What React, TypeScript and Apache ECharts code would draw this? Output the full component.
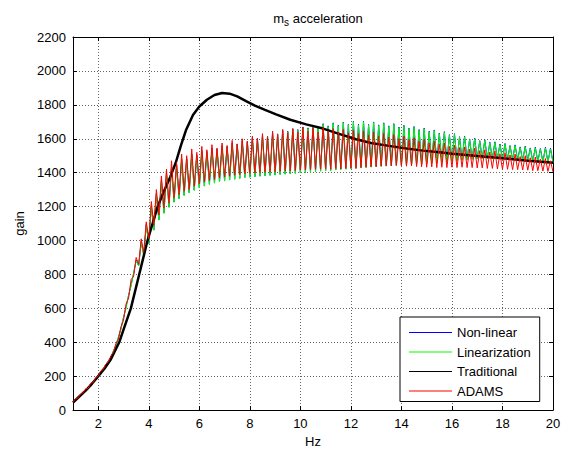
import React, { useEffect, useRef } from "react";
import * as echarts from "echarts";

// Sampling grid for the three oscillating responses (Hz)
const freqStart = 1.0;
const freqStep = 0.1;

// Non-linear (blue), rows = 1.0-1.9, 2.0-2.9, ... , 19.0-19.9, 20.0
const nonLinear = [
  50, 63, 76, 92, 104, 122, 134, 154, 166, 188,
  206, 228, 246, 268, 290, 314, 348, 384, 430, 484,
  545, 610, 675, 740, 805, 884, 851, 994, 912, 1094,
  982, 1204, 1062, 1274, 1122, 1354, 1162, 1394, 1197, 1434,
  1227, 1444, 1247, 1479, 1267, 1484, 1282, 1509, 1297, 1504,
  1312, 1529, 1322, 1524, 1332, 1544, 1340, 1539, 1347, 1559,
  1352, 1554, 1358, 1574, 1362, 1569, 1367, 1589, 1372, 1584,
  1374, 1604, 1377, 1602, 1380, 1619, 1382, 1616, 1385, 1634,
  1387, 1629, 1390, 1649, 1392, 1644, 1394, 1659, 1397, 1654,
  1400, 1669, 1402, 1664, 1404, 1679, 1407, 1672, 1410, 1689,
  1412, 1676, 1414, 1694, 1417, 1679, 1420, 1699, 1422, 1684,
  1424, 1702, 1427, 1686, 1430, 1704, 1432, 1684, 1434, 1699,
  1437, 1682, 1439, 1694, 1440, 1676, 1442, 1689, 1444, 1669,
  1445, 1679, 1447, 1662, 1448, 1672, 1450, 1654, 1452, 1662,
  1454, 1644, 1457, 1652, 1460, 1634, 1463, 1642, 1466, 1624,
  1469, 1630, 1472, 1612, 1475, 1616, 1478, 1599, 1480, 1604,
  1482, 1589, 1483, 1594, 1483, 1579, 1482, 1582, 1481, 1569,
  1480, 1572, 1478, 1560, 1476, 1564, 1474, 1552, 1472, 1556,
  1470, 1546, 1468, 1550, 1466, 1542, 1464, 1549, 1463, 1544,
  1462,
];

// Linearization (green)
const linearization = [
  52, 60, 78, 88, 108, 118, 138, 150, 172, 184,
  210, 222, 250, 262, 292, 308, 350, 378, 432, 476,
  548, 600, 680, 730, 810, 880, 850, 990, 910, 1090,
  980, 1200, 1060, 1270, 1120, 1350, 1160, 1390, 1195, 1430,
  1225, 1440, 1245, 1475, 1265, 1480, 1280, 1505, 1295, 1500,
  1310, 1525, 1320, 1520, 1330, 1540, 1338, 1535, 1345, 1555,
  1350, 1550, 1356, 1570, 1360, 1565, 1365, 1585, 1370, 1580,
  1372, 1600, 1375, 1598, 1378, 1615, 1380, 1612, 1383, 1630,
  1385, 1625, 1388, 1645, 1390, 1640, 1392, 1655, 1395, 1650,
  1398, 1665, 1400, 1660, 1402, 1675, 1405, 1668, 1408, 1685,
  1410, 1672, 1412, 1690, 1415, 1675, 1418, 1695, 1420, 1680,
  1422, 1698, 1425, 1682, 1428, 1700, 1430, 1680, 1432, 1695,
  1435, 1678, 1437, 1690, 1438, 1672, 1440, 1685, 1442, 1665,
  1443, 1675, 1445, 1658, 1446, 1668, 1448, 1650, 1450, 1658,
  1452, 1640, 1455, 1648, 1458, 1630, 1461, 1638, 1464, 1620,
  1467, 1626, 1470, 1608, 1473, 1612, 1476, 1595, 1478, 1600,
  1480, 1585, 1481, 1590, 1481, 1575, 1480, 1578, 1479, 1565,
  1478, 1568, 1476, 1556, 1474, 1560, 1472, 1548, 1470, 1552,
  1468, 1542, 1466, 1546, 1464, 1538, 1462, 1545, 1461, 1540,
  1460,
];

// ADAMS (red)
const adams = [
  48, 66, 72, 95, 102, 126, 130, 158, 164, 192,
  200, 232, 240, 272, 284, 320, 340, 392, 418, 492,
  530, 625, 660, 770, 790, 900, 860, 1010, 930, 1110,
  1010, 1230, 1090, 1300, 1150, 1380, 1190, 1420, 1220, 1470,
  1250, 1460, 1270, 1510, 1290, 1500, 1300, 1540, 1320, 1520,
  1335, 1555, 1345, 1535, 1355, 1565, 1360, 1545, 1370, 1575,
  1375, 1560, 1380, 1590, 1385, 1570, 1388, 1600, 1392, 1585,
  1395, 1615, 1398, 1600, 1400, 1630, 1402, 1610, 1405, 1645,
  1405, 1625, 1408, 1655, 1410, 1635, 1410, 1660, 1412, 1640,
  1415, 1670, 1415, 1645, 1418, 1665, 1420, 1640, 1420, 1668,
  1422, 1645, 1420, 1660, 1425, 1640, 1422, 1655, 1425, 1635,
  1428, 1650, 1425, 1630, 1430, 1645, 1432, 1620, 1435, 1640,
  1435, 1615, 1438, 1632, 1440, 1610, 1440, 1625, 1442, 1600,
  1440, 1615, 1438, 1595, 1440, 1605, 1436, 1585, 1435, 1595,
  1432, 1575, 1434, 1585, 1430, 1568, 1432, 1575, 1430, 1555,
  1432, 1562, 1430, 1548, 1432, 1552, 1430, 1538, 1430, 1545,
  1428, 1530, 1428, 1535, 1425, 1522, 1425, 1528, 1422, 1512,
  1420, 1518, 1420, 1505, 1418, 1510, 1418, 1495, 1416, 1500,
  1415, 1488, 1412, 1492, 1412, 1480, 1410, 1484, 1408, 1470,
  1405,
];

// Traditional (black), smooth curve with its own frequency points
const tradFreq = [
  1.0, 1.25, 1.5, 1.75, 2.0, 2.25, 2.5, 2.83, 3.0, 3.29, 3.62, 3.95, 4.15, 4.35,
  4.6, 4.85, 5.07, 5.27, 5.47, 5.75, 6.0, 6.3, 6.6, 6.9, 7.2, 7.5, 7.85, 8.2,
  8.6, 9.04, 9.6, 10.23, 10.9, 11.5, 12.2, 12.8, 13.5, 14.2, 14.85, 15.5, 16,
  17, 18, 19, 20,
];
const tradGain = [
  45, 80, 115, 155, 200, 245, 300, 400, 475, 600, 800, 1000, 1100, 1200,
  1290, 1375, 1460, 1560, 1650, 1740, 1790, 1830, 1858, 1870, 1866, 1850, 1822, 1795,
  1770, 1744, 1712, 1685, 1660, 1630, 1597, 1575, 1558, 1542, 1530, 1520, 1512,
  1498, 1485, 1470, 1458,
];

const seriesNames = ["Non-linear", "Linearization", "Traditional", "ADAMS"];
const seriesColors = ["#0000ff", "#00ff00", "#000000", "#ff0000"];
const xTicks = [2, 4, 6, 8, 10, 12, 14, 16, 18, 20];
const xMin = 1;
const xMax = 20;
const yMin = 0;
const yMax = 2200;
const yStep = 200;

const FONT = "'Liberation Sans', Arial, Helvetica, sans-serif";

function toPairs(vals: number[]) {
  return vals.map((v, i) => [Number((freqStart + i * freqStep).toFixed(2)), v]);
}

export default function App() {
  const ref = useRef<HTMLDivElement>(null);

  useEffect(() => {
    if (!ref.current) return;
    const chart = echarts.init(ref.current, undefined, { renderer: "svg" });
    const axisLineStyle = { color: "#000", width: 1 };
    const gridLine = { color: "#666", type: [1, 2], width: 1 };
    const option: any = {
      animation: false,
      backgroundColor: "#fff",
      title: {
        text: "{m|m}{s|s}{a| acceleration}",
        left: 313,
        top: 4,
        textAlign: "center",
        textStyle: {
          fontWeight: "normal",
          rich: {
            m: { fontSize: 13, fontFamily: FONT, color: "#000", fontWeight: "normal" },
            s: { fontSize: 10, fontFamily: FONT, color: "#000", fontWeight: "normal", padding: [8, 0, 0, 0] },
            a: { fontSize: 13, fontFamily: FONT, color: "#000", fontWeight: "normal" },
          },
        },
      },
      grid: { left: 73, right: 14, top: 37, bottom: 40 },
      legend: {
        data: seriesNames.map((n, i) => ({
          name: n,
          icon: "rect",
          itemStyle: { color: seriesColors[i], borderWidth: 0, opacity: 1 },
        })),
        orient: "vertical",
        left: 400,
        top: 317,
        backgroundColor: "#fff",
        borderColor: "#000",
        borderWidth: 1,
        borderRadius: 0,
        padding: [9, 9, 4, 9],
        itemWidth: 43,
        itemHeight: 1,
        itemGap: 6.5,
        textStyle: { fontSize: 13, color: "#000", fontFamily: FONT },
      },
      xAxis: [
        {
          type: "value",
          min: xMin,
          max: xMax,
          position: "bottom",
          name: "Hz",
          nameLocation: "middle",
          nameGap: 22,
          nameTextStyle: { fontSize: 13, color: "#000", fontFamily: FONT },
          axisLine: { show: true, onZero: false, lineStyle: axisLineStyle },
          axisTick: { show: true, inside: true, length: 4, customValues: xTicks, lineStyle: axisLineStyle },
          axisLabel: { customValues: xTicks, color: "#000", fontSize: 13, margin: 7, fontFamily: FONT },
          splitLine: { show: true, lineStyle: gridLine },
        },
        {
          type: "value",
          min: xMin,
          max: xMax,
          position: "top",
          axisLine: { show: true, onZero: false, lineStyle: axisLineStyle },
          axisTick: { show: true, inside: true, length: 4, customValues: xTicks, lineStyle: axisLineStyle },
          axisLabel: { show: false },
          splitLine: { show: false },
        },
      ],
      yAxis: [
        {
          type: "value",
          min: yMin,
          max: yMax,
          interval: yStep,
          position: "left",
          name: "gain",
          nameLocation: "middle",
          nameGap: 40,
          nameTextStyle: { fontSize: 13, color: "#000", fontFamily: FONT },
          axisLine: { show: true, onZero: false, lineStyle: axisLineStyle },
          axisTick: { show: true, inside: true, length: 4, lineStyle: axisLineStyle },
          axisLabel: {
            color: "#000",
            fontSize: 13,
            margin: 7,
            fontFamily: FONT,
            formatter: (v: number) => String(v),
          },
          splitLine: { show: true, lineStyle: gridLine },
        },
        {
          type: "value",
          min: yMin,
          max: yMax,
          interval: yStep,
          position: "right",
          axisLine: { show: true, onZero: false, lineStyle: axisLineStyle },
          axisTick: { show: true, inside: true, length: 4, lineStyle: axisLineStyle },
          axisLabel: { show: false },
          splitLine: { show: false },
        },
      ],
      series: [
        {
          name: "Non-linear",
          type: "line",
          data: toPairs(nonLinear),
          symbol: "none",
          lineStyle: { color: seriesColors[0], width: 1 },
          itemStyle: { color: seriesColors[0] },
        },
        {
          name: "Linearization",
          type: "line",
          data: toPairs(linearization),
          symbol: "none",
          lineStyle: { color: seriesColors[1], width: 1 },
          itemStyle: { color: seriesColors[1] },
        },
        {
          name: "Traditional",
          type: "line",
          data: tradFreq.map((f, i) => [f, tradGain[i]]),
          symbol: "none",
          lineStyle: { color: seriesColors[2], width: 2.5 },
          itemStyle: { color: seriesColors[2] },
        },
        {
          name: "ADAMS",
          type: "line",
          data: toPairs(adams),
          symbol: "none",
          lineStyle: { color: seriesColors[3], width: 1 },
          itemStyle: { color: seriesColors[3] },
        },
      ],
    };
    chart.setOption(option);
    return () => chart.dispose();
  }, []);

  return (
    <div
      ref={ref}
      style={{ position: "fixed", left: 0, top: 0, width: 567, height: 453 }}
    />
  );
}
